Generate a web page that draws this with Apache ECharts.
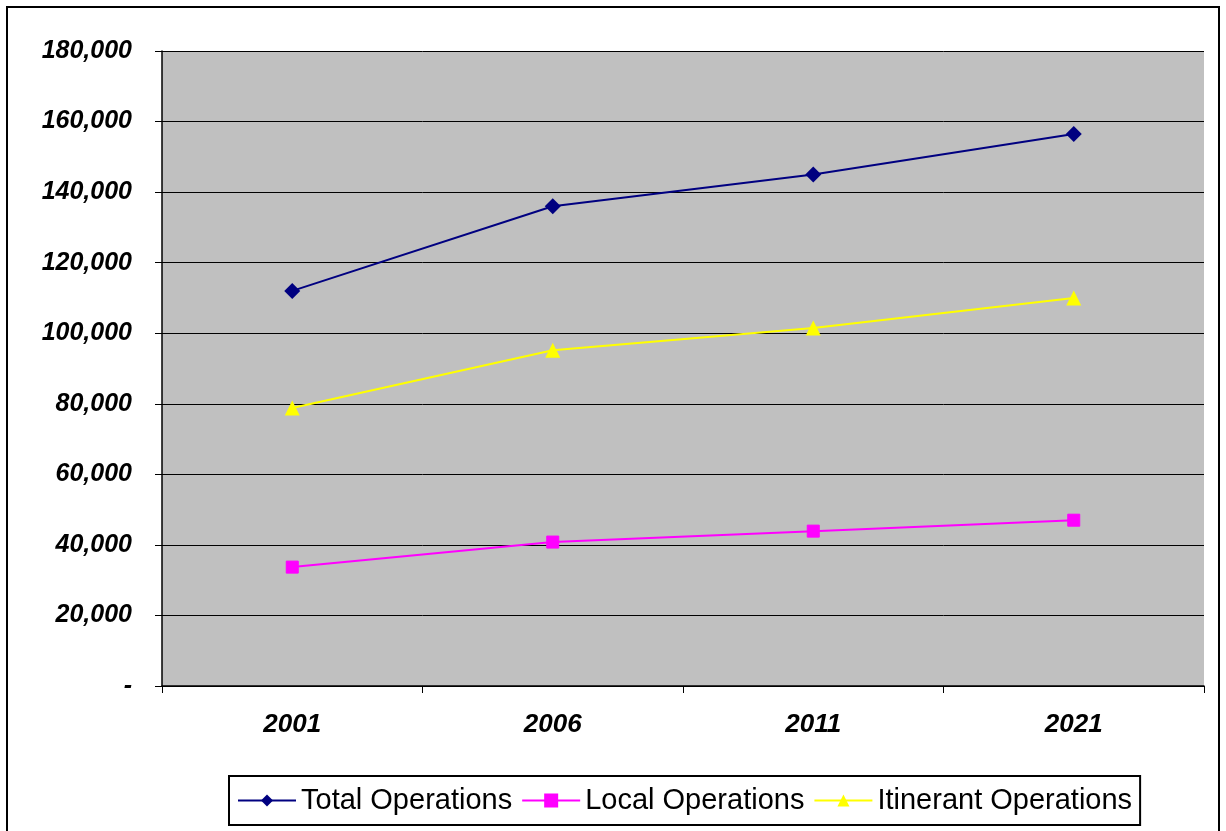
<!DOCTYPE html>
<html>
<head>
<meta charset="utf-8">
<script src="https://cdn.jsdelivr.net/npm/echarts@6/dist/echarts.min.js"></script>
<style>
html, body { margin: 0; padding: 0; background: #fff; }
#chart { width: 1226px; height: 831px; }
</style>
</head>
<body>
<div id="chart"></div>
<script>
var years = ['2001', '2006', '2011', '2021'];
var totalOps = [112000, 136000, 145000, 156500];
var localOps = [33700, 40800, 43900, 47000];
var itinerantOps = [78800, 95200, 101500, 110000];
var seriesNames = ['Total Operations', 'Local Operations', 'Itinerant Operations'];

var echart = echarts.init(document.getElementById('chart'));
var option = {
    animation: false,
    graphic: [{
        type: 'rect',
        shape: { x: 7, y: 7, width: 1212, height: 830 },
        style: { fill: 'none', stroke: '#000', lineWidth: 2 },
        silent: true
    }],
    grid: {
        left: 162,
        right: 22,
        top: 51,
        bottom: 145,
        show: true,
        backgroundColor: '#C0C0C0',
        borderWidth: 0
    },
    legend: {
        data: seriesNames,
        left: 229,
        top: 776,
        padding: [10, 8, 10, 8],
        borderColor: '#000',
        borderWidth: 2,
        borderRadius: 0,
        itemWidth: 58,
        itemHeight: 15,
        itemGap: 9,
        textStyle: {
            fontFamily: 'Liberation Sans, Arial',
            fontSize: 29,
            color: '#000'
        }
    },
    xAxis: {
        type: 'category',
        data: years,
        boundaryGap: true,
        axisLine: { lineStyle: { color: '#000', width: 1.5 } },
        axisTick: { show: true, length: 7, lineStyle: { color: '#000' } },
        axisLabel: {
            margin: 26,
            fontFamily: 'Liberation Sans, Arial',
            fontSize: 26,
            fontWeight: 'bold',
            fontStyle: 'italic',
            color: '#000'
        }
    },
    yAxis: {
        type: 'value',
        min: 0,
        max: 180000,
        interval: 20000,
        axisLine: { show: true, lineStyle: { color: '#000', width: 1.5 } },
        axisTick: { show: true, length: 7, lineStyle: { color: '#000' } },
        splitLine: { lineStyle: { color: '#000', width: 1 } },
        axisLabel: {
            margin: 30,
            fontFamily: 'Liberation Sans, Arial',
            fontSize: 25,
            fontWeight: 'bold',
            fontStyle: 'italic',
            color: '#000',
            formatter: function (v) {
                if (v === 0) return '-';
                return v.toLocaleString('en-US');
            }
        }
    },
    series: [{
        name: seriesNames[0],
        type: 'line',
        data: totalOps,
        symbol: 'diamond',
        symbolSize: 16,
        itemStyle: { color: '#000080' },
        lineStyle: { color: '#000080', width: 2 }
    }, {
        name: seriesNames[1],
        type: 'line',
        data: localOps,
        symbol: 'rect',
        symbolSize: 12,
        itemStyle: { color: '#FF00FF', borderColor: '#FF00FF', borderWidth: 1 },
        lineStyle: { color: '#FF00FF', width: 2 }
    }, {
        name: seriesNames[2],
        type: 'line',
        data: itinerantOps,
        symbol: 'triangle',
        symbolSize: 15,
        itemStyle: { color: '#FFFF00' },
        lineStyle: { color: '#FFFF00', width: 2 }
    }]
};
echart.setOption(option, true);
</script>
</body>
</html>
